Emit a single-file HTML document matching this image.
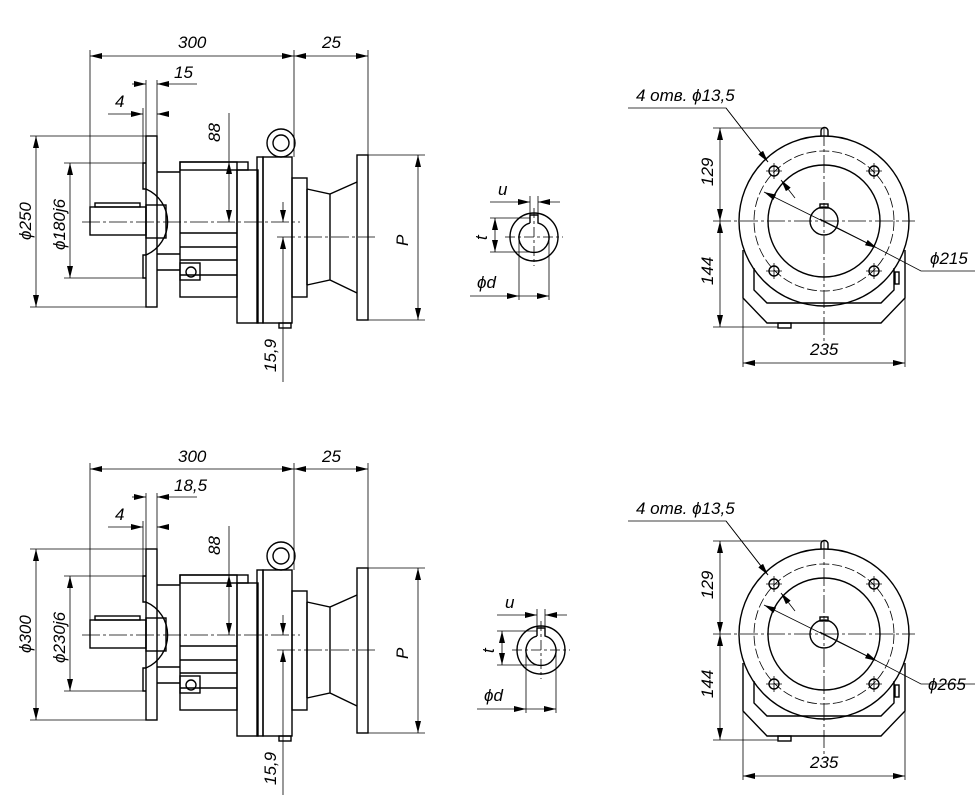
<!DOCTYPE html>
<html><head><meta charset="utf-8"><style>
html,body{margin:0;padding:0;background:#fff;}
svg{display:block;}
text{font-family:"Liberation Sans",sans-serif;font-style:italic;font-size:17px;fill:#000;}
</style></head><body>
<svg width="980" height="809" viewBox="0 0 980 809" xmlns="http://www.w3.org/2000/svg">
<defs>
<marker id="a" viewBox="0 0 12 6" refX="12" refY="3" markerWidth="12" markerHeight="6" markerUnits="userSpaceOnUse" orient="auto-start-reverse"><path d="M0,0 L12,3 L0,6z" fill="#000"/></marker>
<g id="L" fill="none" stroke="#000">
 <!-- dims thin -->
 <g stroke-width="0.8">
  <line x1="90" y1="56" x2="294" y2="56" marker-start="url(#a)" marker-end="url(#a)"/>
  <line x1="294" y1="56" x2="368" y2="56" marker-start="url(#a)" marker-end="url(#a)"/>
  <line x1="90" y1="50" x2="90" y2="235"/>
  <line x1="294" y1="50" x2="294" y2="157"/>
  <line x1="368" y1="50" x2="368" y2="155"/>
  <line x1="132" y1="84" x2="146" y2="84" marker-end="url(#a)"/>
  <line x1="197" y1="84" x2="157" y2="84" marker-end="url(#a)"/>
  <line x1="108" y1="114" x2="143" y2="114" marker-end="url(#a)"/>
  <line x1="166" y1="114" x2="157" y2="114" marker-end="url(#a)"/>
  <line x1="146" y1="80" x2="146" y2="136"/>
  <line x1="143" y1="108" x2="143" y2="163"/>
  <line x1="157" y1="80" x2="157" y2="136"/>
  <line x1="36" y1="136" x2="36" y2="307" marker-start="url(#a)" marker-end="url(#a)"/>
  <line x1="30" y1="136" x2="146" y2="136"/>
  <line x1="30" y1="307" x2="146" y2="307"/>
  <line x1="70" y1="163" x2="70" y2="278" marker-start="url(#a)" marker-end="url(#a)"/>
  <line x1="64" y1="163" x2="143" y2="163"/>
  <line x1="64" y1="278" x2="143" y2="278"/>
  <line x1="229" y1="113" x2="229" y2="162"/>
  <line x1="229" y1="175" x2="229" y2="162" marker-end="url(#a)"/>
  <line x1="229" y1="175" x2="229" y2="222" marker-end="url(#a)"/>
  <line x1="222" y1="162" x2="248" y2="162"/>
  <line x1="82" y1="222" x2="300" y2="222" stroke-dasharray="18 3 3 3"/>
  <line x1="277" y1="237" x2="375" y2="237" stroke-dasharray="18 3 3 3"/>
  <line x1="283" y1="202" x2="283" y2="222" marker-end="url(#a)"/>
  <line x1="283" y1="382" x2="283" y2="237" marker-end="url(#a)"/>
  <line x1="418" y1="155" x2="418" y2="320" marker-start="url(#a)" marker-end="url(#a)"/>
  <line x1="368" y1="155" x2="425" y2="155"/>
  <line x1="368" y1="320" x2="425" y2="320"/>
 </g>
 <g stroke-width="1.4">
  <rect x="146" y="136" width="11" height="171"/>
  <path d="M146,163 H143 V189 H146 A36 36 0 0 1 146,255 H143 V278 H146"/>
  <rect x="90" y="207" width="56" height="28"/>
  <rect x="146" y="205" width="20" height="33"/>
  <rect x="95" y="203" width="45" height="4"/>
  <line x1="157" y1="172" x2="180" y2="172"/>
  <line x1="157" y1="254" x2="180" y2="254"/>
  <line x1="157" y1="270" x2="180" y2="270"/>
  <rect x="180" y="162" width="57" height="135"/>
  <rect x="180" y="162" width="68" height="8"/>
  <line x1="180" y1="233" x2="237" y2="233"/>
  <line x1="180" y1="247" x2="237" y2="247"/>
  <line x1="180" y1="260" x2="237" y2="260"/>
  <line x1="180" y1="275" x2="237" y2="275"/>
  <rect x="180" y="263" width="20" height="17"/>
  <circle cx="191" cy="272" r="5"/>
  <rect x="237" y="170" width="21" height="153"/>
  <rect x="257" y="157" width="6" height="166"/>
  <rect x="263" y="157" width="29" height="166"/>
  <rect x="279" y="323" width="12" height="5"/>
  <circle cx="281" cy="143" r="14"/>
  <circle cx="281" cy="143" r="8"/>
  <rect x="292" y="178" width="15" height="119"/>
  <path d="M307,189 L330,194 L357,182 M307,285 L330,280 L357,293 M330,194 V280 M307,189 V285"/>
  <rect x="357" y="155" width="11" height="165"/>
 </g>
</g>
<g id="R" fill="none" stroke="#000">
 <g stroke-width="1.4">
  <circle cx="824" cy="221" r="85"/>
  <circle cx="824" cy="221" r="56"/>
  <circle cx="824" cy="221" r="14"/>
  <rect x="820" y="204" width="8" height="4"/>
  <path d="M821,136 V131 A3.5 3.5 0 0 1 828,131 V136"/>
  <circle cx="774" cy="171" r="5"/><circle cx="874" cy="171" r="5"/>
  <circle cx="774" cy="271" r="5"/><circle cx="874" cy="271" r="5"/>
  <path d="M743,250 V298 L767,323 H881 L905,298 V250"/>
  <path d="M754,268 V290 L767,303 H881 L894,290 V268"/>
  <rect x="895" y="272" width="4" height="12"/>
  <rect x="778" y="323" width="13" height="5"/>
 </g>
 <g stroke-width="0.8">
  <circle cx="824" cy="221" r="70" stroke-dasharray="10 3"/>
  <line x1="713" y1="221" x2="915" y2="221" stroke-dasharray="18 3 3 3"/>
  <line x1="824" y1="128" x2="824" y2="345" stroke-dasharray="18 3 3 3"/>
  <path d="M766,171 H782 M774,163 V179 M866,171 H882 M874,163 V179 M766,271 H782 M774,263 V279 M866,271 H882 M874,263 V279"/>
  <line x1="720" y1="128" x2="720" y2="221" marker-start="url(#a)" marker-end="url(#a)"/>
  <line x1="720" y1="221" x2="720" y2="327" marker-start="url(#a)" marker-end="url(#a)"/>
  <line x1="713" y1="128" x2="822" y2="128"/>
  <line x1="713" y1="327" x2="778" y2="327"/>
  <line x1="743" y1="363" x2="905" y2="363" marker-start="url(#a)" marker-end="url(#a)"/>
  <line x1="743" y1="250" x2="743" y2="367"/>
  <line x1="905" y1="250" x2="905" y2="367"/>
  <path d="M628,108 H726 L768,162"/>
  <line x1="726" y1="108" x2="768" y2="162" marker-end="url(#a)"/>
  <line x1="795" y1="198" x2="781" y2="180" marker-end="url(#a)"/>
  <line x1="875" y1="247" x2="764" y2="192" marker-end="url(#a)"/>
  <line x1="820" y1="219" x2="877" y2="248" marker-end="url(#a)"/>
  <path d="M877,248 L921,271 H975"/>
 </g>
</g>
<g id="K" fill="none" stroke="#000">
 <g stroke-width="1.4">
  <circle cx="534" cy="237" r="24"/>
  <path d="M530,223 V215 H538 V223 A15 15 0 1 1 530,223"/>
 </g>
 <g stroke-width="0.8">
  <line x1="505" y1="237" x2="563" y2="237" stroke-dasharray="10 3 3 3"/>
  <line x1="534" y1="208" x2="534" y2="266" stroke-dasharray="10 3 3 3"/>
  <line x1="490" y1="202" x2="530" y2="202" marker-end="url(#a)"/>
  <line x1="560" y1="202" x2="538" y2="202" marker-end="url(#a)"/>
  <line x1="530" y1="196" x2="530" y2="215"/>
  <line x1="538" y1="196" x2="538" y2="215"/>
  <line x1="495" y1="218" x2="495" y2="252" marker-start="url(#a)" marker-end="url(#a)"/>
  <line x1="490" y1="218" x2="530" y2="218"/>
  <line x1="490" y1="252" x2="532" y2="252"/>
  <line x1="470" y1="296" x2="519" y2="296" marker-end="url(#a)"/>
  <line x1="549" y1="296" x2="519" y2="296" marker-start="url(#a)"/>
  <line x1="519" y1="237" x2="519" y2="300"/>
  <line x1="549" y1="237" x2="549" y2="300"/>
 </g>
</g>
</defs>
<use href="#L"/>
<use href="#L" transform="translate(0,413)"/>
<use href="#R"/>
<use href="#R" transform="translate(0,413)"/>
<use href="#K"/>
<use href="#K" transform="translate(7,413)"/>

<!-- top texts -->
<text x="178" y="48">300</text>
<text x="322" y="48">25</text>
<text x="174" y="78">15</text>
<text x="115" y="107">4</text>
<text transform="translate(220,142) rotate(-90)">88</text>
<text transform="translate(31,240) rotate(-90)">ϕ250</text>
<text transform="translate(65,250) rotate(-90)">ϕ180j6</text>
<text transform="translate(276,372) rotate(-90)">15,9</text>
<text transform="translate(408,246) rotate(-90)">P</text>
<text x="498" y="195">u</text>
<text transform="translate(487,240) rotate(-90)">t</text>
<text x="477" y="288">ϕd</text>
<text x="636" y="101">4 отв. ϕ13,5</text>
<text transform="translate(713,186) rotate(-90)">129</text>
<text transform="translate(713,285) rotate(-90)">144</text>
<text x="810" y="355">235</text>
<text x="930" y="264">ϕ215</text>

<!-- bottom texts -->
<text x="178" y="462">300</text>
<text x="322" y="462">25</text>
<text x="174" y="491">18,5</text>
<text x="115" y="520">4</text>
<text transform="translate(220,555) rotate(-90)">88</text>
<text transform="translate(31,653) rotate(-90)">ϕ300</text>
<text transform="translate(65,663) rotate(-90)">ϕ230j6</text>
<text transform="translate(276,785) rotate(-90)">15,9</text>
<text transform="translate(408,659) rotate(-90)">P</text>
<text x="505" y="608">u</text>
<text transform="translate(494,653) rotate(-90)">t</text>
<text x="484" y="701">ϕd</text>
<text x="636" y="514">4 отв. ϕ13,5</text>
<text transform="translate(713,599) rotate(-90)">129</text>
<text transform="translate(713,698) rotate(-90)">144</text>
<text x="810" y="768">235</text>
<text x="928" y="690">ϕ265</text>
</svg>
</body></html>
